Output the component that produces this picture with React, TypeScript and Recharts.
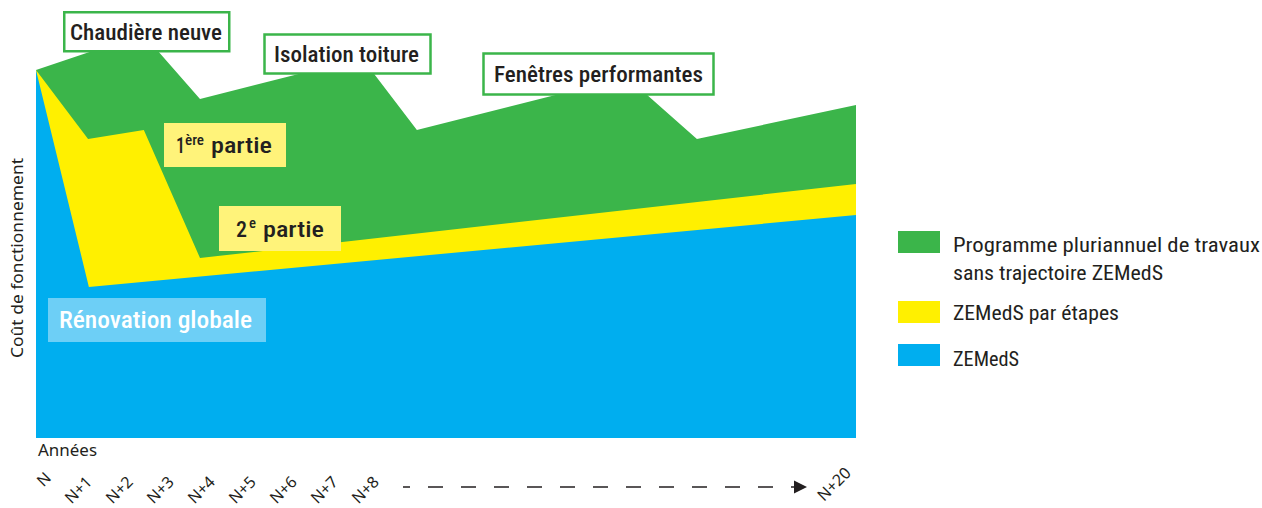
import React from 'react';
import { ComposedChart, Area, XAxis, YAxis, Legend } from 'recharts';

// ---- data (years after N, cost of operation in arbitrary units) ----
const greenYears = [0, 2.61, 4.0, 7.95, 9.29, 14.41, 16.12, 20];
const greenValues = [92, 101, 84.75, 95, 77, 90.25, 74.75, 83.25];
const yellowYears = [0, 1.27, 2.63, 4.0, 20];
const yellowValues = [92, 74.75, 77, 45, 63.5];
const blueYears = [0, 1.29, 20];
const blueValues = [92, 37.75, 55.75];

const tickYears = [0, 1, 2, 3, 4, 5, 6, 7, 8, 20];
const tickLabels = ['N', 'N+1', 'N+2', 'N+3', 'N+4', 'N+5', 'N+6', 'N+7', 'N+8', 'N+20'];

const seriesKeys = ['green', 'yellow', 'blue'];
const seriesNames = [
  'Programme pluriannuel de travaux\nsans trajectoire ZEMedS',
  'ZEMedS par étapes',
  'ZEMedS',
];

const GREEN = '#3bb54a';
const YELLOW = '#fff000';
const BLUE = '#00aeef';
const LIGHT_YELLOW = '#fff37a';
const LIGHT_BLUE = '#6dcff6';
const INK = '#231f20';

const COND = "'Roboto Condensed', 'Liberation Sans Narrow', 'DejaVu Sans Condensed', Roboto, sans-serif";
const PLAIN = "'Noto Sans', 'Open Sans', sans-serif";

function buildTable() {
  const rows = new Map<number, any>();
  const add = (xs: number[], vs: number[], key: string) => {
    xs.forEach((x, i) => {
      const r = rows.get(x) ?? { year: x };
      r[key] = vs[i];
      rows.set(x, r);
    });
  };
  add(greenYears, greenValues, 'green');
  add(yellowYears, yellowValues, 'yellow');
  add(blueYears, blueValues, 'blue');
  return Array.from(rows.values()).sort((a, b) => a.year - b.year);
}

const table = buildTable();

const YearTick = (props: any) => {
  const { x, y, payload } = props;
  const idx = tickYears.indexOf(payload.value);
  const label = tickLabels[idx] ?? '';
  const last = idx === tickYears.length - 1;
  const ax = x + (last ? -4 : 16);
  const ay = y + (idx === 0 ? 41 : last ? 36 : 45);
  return (
    <text
      x={ax}
      y={ay}
      transform={`rotate(-45, ${ax}, ${ay})`}
      textAnchor="end"
      fontFamily={PLAIN}
      fontSize={16}
      fill={INK}
    >
      {label}
    </text>
  );
};

const legendLengths = [[307, 210], [166], [66]];
const legendSwatchY = [11, 81, 124];
const legendBaselines = [[32, 60], [100], [146]];

const LegendContent = (props: any) => {
  const payload = props.payload ?? [];
  const ordered = seriesKeys
    .map((k) => payload.find((p: any) => p.dataKey === k))
    .filter(Boolean);
  return (
    <svg width={372} height={160} style={{ display: 'block' }}>
      {ordered.map((entry: any, i: number) => {
        const lines = String(entry.value).split('\n');
        return (
          <g key={i}>
            <rect x={8} y={legendSwatchY[i]} width={42} height={22} fill={entry.color} />
            {lines.map((ln, j) => (
              <text
                key={j}
                x={63}
                y={legendBaselines[i][j]}
                fontFamily={COND}
                fontSize={21}
                fill={INK}
                textLength={legendLengths[i][j]}
                lengthAdjust="spacingAndGlyphs"
              >
                {ln}
              </text>
            ))}
          </g>
        );
      })}
    </svg>
  );
};

const Box = ({ x, y, w, h, text, tx, ty, tl }: any) => (
  <g>
    <rect x={x} y={y} width={w} height={h} fill="#ffffff" stroke={GREEN} strokeWidth={2.5} />
    <text x={tx} y={ty} fontFamily={COND} fontWeight={500} fontSize={22} fill={INK}
      textLength={tl} lengthAdjust="spacingAndGlyphs">{text}</text>
  </g>
);

const Annotations = () => (
  <svg width={1262} height={508} style={{ position: 'absolute', left: 0, top: 0, pointerEvents: 'none' }}>
    <Box x={64.25} y={12.25} w={165} h={39} text="Chaudière neuve" tx={70} ty={40} tl={152} />
    <Box x={264.5} y={34.5} w={166} h={39} text="Isolation toiture" tx={274} ty={62} tl={145} />
    <Box x={483.5} y={53.5} w={230} h={41} text="Fenêtres performantes" tx={494} ty={82} tl={209} />

    <rect x={164} y={123} width={122} height={44} fill={LIGHT_YELLOW} />
    <text x={176} y={153} fontFamily={COND} fontWeight={500} fontSize={22} fill={INK}
      textLength={9} lengthAdjust="spacingAndGlyphs">1</text>
    <text x={185} y={145} fontFamily={COND} fontWeight={500} fontSize={14} fill={INK}
      textLength={19} lengthAdjust="spacingAndGlyphs">ère</text>
    <text x={211} y={153} fontFamily={COND} fontWeight={500} fontSize={22} fill={INK}
      textLength={61} lengthAdjust="spacingAndGlyphs">partie</text>

    <rect x={219} y={206} width={122} height={45} fill={LIGHT_YELLOW} />
    <text x={236} y={237} fontFamily={COND} fontWeight={500} fontSize={22} fill={INK}
      textLength={11} lengthAdjust="spacingAndGlyphs">2</text>
    <text x={249} y={228} fontFamily={COND} fontWeight={500} fontSize={14} fill={INK}
      textLength={7} lengthAdjust="spacingAndGlyphs">e</text>
    <text x={263} y={237} fontFamily={COND} fontWeight={500} fontSize={22} fill={INK}
      textLength={61} lengthAdjust="spacingAndGlyphs">partie</text>

    <rect x={48} y={298} width={218} height={44} fill={LIGHT_BLUE} />
    <text x={59} y={328} fontFamily={COND} fontWeight={500} fontSize={23} fill="#ffffff"
      textLength={193} lengthAdjust="spacingAndGlyphs">Rénovation globale</text>

    <text x={23} y={258} transform="rotate(-90, 23, 258)" textAnchor="middle"
      fontFamily={PLAIN} fontSize={16} fill={INK} textLength={200}
      lengthAdjust="spacingAndGlyphs">Coût de fonctionnement</text>

    <text x={38} y={456} fontFamily={PLAIN} fontSize={16} fill={INK}
      textLength={59} lengthAdjust="spacingAndGlyphs">Années</text>

    <line x1={403} y1={487} x2={795} y2={487} stroke={INK} strokeWidth={1.3}
      strokeDasharray="15 18" strokeDashoffset={8} />
    <polygon points="794,480.5 807,487 794,493.5" fill={INK} />
  </svg>
);

export default function App() {
  return (
    <div style={{ position: 'absolute', left: 0, top: 0, width: 1262, height: 508, background: '#fff' }}>
      <ComposedChart
        width={1262}
        height={508}
        data={table}
        margin={{ top: 18, right: 406, bottom: 0, left: 0 }}
      >
        <XAxis
          dataKey="year"
          type="number"
          domain={[0, 20]}
          ticks={tickYears}
          interval={0}
          axisLine={false}
          tickLine={false}
          tickSize={0}
          tickMargin={0}
          height={70}
          tick={<YearTick />}
        />
        <YAxis
          type="number"
          domain={[0, 105]}
          width={36}
          axisLine={false}
          tickLine={false}
          tick={false}
        />
        <Area type="linear" dataKey="green" name={seriesNames[0]} fill={GREEN} fillOpacity={1}
          stroke="none" connectNulls dot={false} activeDot={false} isAnimationActive={false} />
        <Area type="linear" dataKey="yellow" name={seriesNames[1]} fill={YELLOW} fillOpacity={1}
          stroke="none" connectNulls dot={false} activeDot={false} isAnimationActive={false} />
        <Area type="linear" dataKey="blue" name={seriesNames[2]} fill={BLUE} fillOpacity={1}
          stroke="none" connectNulls dot={false} activeDot={false} isAnimationActive={false} />
        <Legend
          layout="vertical"
          align="center"
          verticalAlign="middle"
          content={<LegendContent />}
          wrapperStyle={{ position: 'absolute', left: 890, top: 220, width: 372, height: 160 }}
        />
      </ComposedChart>
      <Annotations />
    </div>
  );
}
